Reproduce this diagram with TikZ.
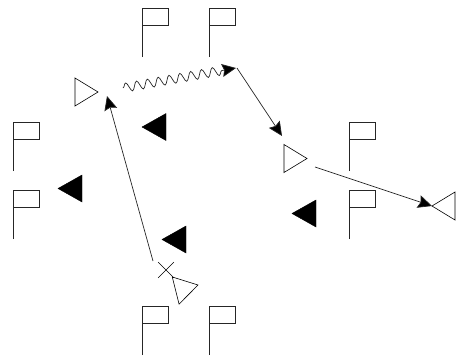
\documentclass[tikz,border=0pt]{standalone}
\usetikzlibrary{shapes.geometric,shapes.misc,arrows.meta,decorations.pathmorphing}
\begin{document}
\begin{tikzpicture}[x=1pt,y=-1pt,
  opentri/.style={draw, line width=0.6pt, isosceles triangle, isosceles triangle stretches,
    minimum width=28pt, minimum height=23pt, inner sep=0pt, outer sep=0pt, anchor=apex},
  filltri/.style={fill=black, draw=black, isosceles triangle, isosceles triangle stretches,
    minimum width=27pt, minimum height=24pt, inner sep=0pt, outer sep=0pt, shape border rotate=180, anchor=apex},
  conn/.style={line width=0.7pt, draw=black!85, -{Stealth[length=14pt,width=13pt,inset=2pt,fill=black]}},
  flag/.pic={\draw[line width=0.7pt, black!85] (0,49) -- (0,0) -- (26,0) -- (26,17) -- (0,17);}
]
\useasboundingbox (0,0) rectangle (457,359);
% flags
\pic at (142,8) {flag};
\pic at (209,8) {flag};
\pic at (13,122) {flag};
\pic at (13,190) {flag};
\pic at (349,122) {flag};
\pic at (349,190) {flag};
\pic at (142,306) {flag};
\pic at (209,306) {flag};
% open triangles
\node[opentri] (L) at (98,92) {};
\node[opentri] (M) at (307,158.5) {};
\node[opentri, shape border rotate=180] (R) at (432,206) {};
\node[opentri, rotate=14] (B) at (198,285) {};
% filled triangles
\node[filltri] (F1) at (142,127) {};
\node[filltri] (F2) at (58,188.5) {};
\node[filltri] (F3) at (162,239.5) {};
\node[filltri] (F4) at (292,213.5) {};
% cross
\node[cross out, draw, line width=0.6pt, minimum size=15pt, inner sep=0pt] (X) at (166,270) {};
% connector end points
\coordinate (s1) at (123,88);
\coordinate (w1) at (236,68);
\coordinate (s2) at (237,68);
\coordinate (w2) at (282,136);
\coordinate (s3) at (315,167);
\coordinate (s4) at (153,261);
\coordinate (w4) at (107,96);
% connectors
\draw[conn, decorate, decoration={snake, amplitude=4.5pt, segment length=11pt, post length=9pt}] (s1) -- (w1);
\draw[conn] (s2) -- (w2);
\draw[conn] (s3) -- (R.apex);
\draw[conn] (s4) -- (w4);
\end{tikzpicture}
\end{document}
